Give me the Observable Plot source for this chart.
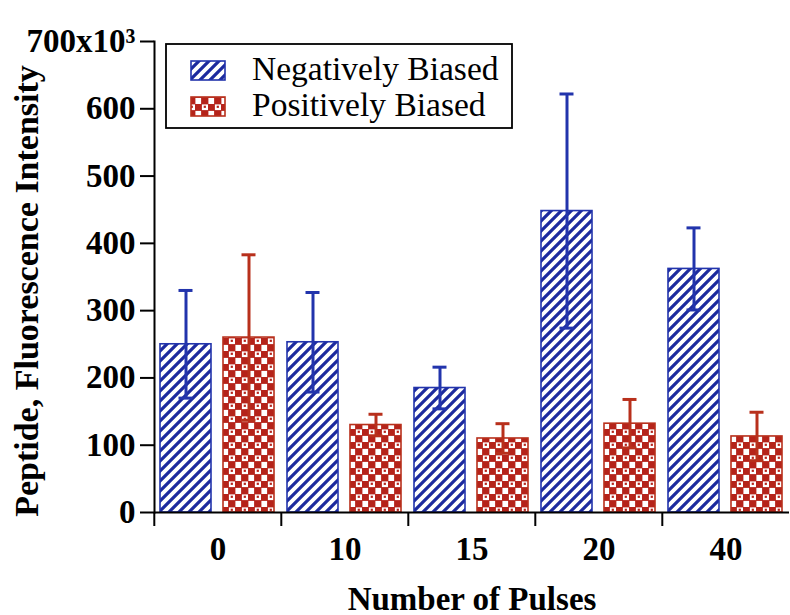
<!DOCTYPE html>
<html>
<head>
<meta charset="utf-8">
<script src="https://cdn.jsdelivr.net/npm/d3@7"></script>
<script src="https://cdn.jsdelivr.net/npm/@observablehq/plot@0.6"></script>
<style>
  html, body { margin: 0; padding: 0; background: white; }
  #chart { position: relative; width: 790px; height: 615px; }
</style>
</head>
<body>
<svg width="0" height="0" style="position:absolute">
  <defs>
    <pattern id="hatch" patternUnits="userSpaceOnUse" width="10" height="10">
      <rect width="10" height="10" fill="white"/>
      <path d="M-1,11 L11,-1 M-6,6 L6,-6 M4,16 L16,4" stroke="#1c2a9e" stroke-width="3.2"/>
    </pattern>
    <pattern id="check" patternUnits="userSpaceOnUse" width="13" height="13">
      <rect width="13" height="13" fill="white"/>
      <rect x="0" y="0" width="6.5" height="6.5" fill="#b5231a"/>
      <rect x="6.5" y="6.5" width="6.5" height="6.5" fill="#b5231a"/>
      <rect x="8.7" y="1.7" width="2.2" height="2.2" fill="#b5231a"/>
      <path d="M0,0 H13 M0,6.5 H13 M0,0 V13 M6.5,0 V13" stroke="#b5231a" stroke-width="0.8"/>
    </pattern>
  </defs>
</svg>
<div id="chart"></div>
<script>
// ---- data ----
const groups = ["0", "10", "15", "20", "40"];
const series = ["Negatively Biased", "Positively Biased"];
const negMean = [250, 253, 185, 448, 362];
const negErr  = [80, 74, 31, 174, 61];
const posMean = [260, 130, 110, 132, 113];
const posErr  = [123, 16, 22, 36, 36];
const yTicks = [0, 100, 200, 300, 400, 500, 600, 700];
const yTickLabels = ["0", "100", "200", "300", "400", "500", "600", "700x10³"];
const xTitle = "Number of Pulses";
const yTitle = "Peptide, Fluorescence Intensity";

const rows = [];
groups.forEach((g, i) => {
  rows.push({group: g, series: series[0], value: negMean[i], err: negErr[i]});
  rows.push({group: g, series: series[1], value: posMean[i], err: posErr[i]});
});
const neg = rows.filter(d => d.series === series[0]);
const pos = rows.filter(d => d.series === series[1]);

const W = 790, H = 615, ML = 153, MR = 0, MT = 41, MB = 103;
const step = (W - ML - MR) / groups.length;
const blue = "#2234ac", red = "#b8301c";
const font = "'Liberation Serif', 'Times New Roman', serif";

function errMarks(data, color) {
  return [
    Plot.ruleX(data, {fx: "group", x: "series", y1: d => d.value - d.err, y2: d => d.value + d.err, stroke: color, strokeWidth: 3}),
    Plot.tickY(data, {fx: "group", x: "series", y: d => d.value + d.err, stroke: color, strokeWidth: 3, insetLeft: 18.5, insetRight: 18.5}),
    Plot.tickY(data, {fx: "group", x: "series", y: d => d.value - d.err, stroke: color, strokeWidth: 3, insetLeft: 18.5, insetRight: 18.5})
  ];
}

const plot = Plot.plot({
  width: W, height: H,
  marginLeft: ML, marginRight: MR, marginTop: MT, marginBottom: MB,
  style: {fontFamily: font, fontWeight: "bold", color: "black", background: "white", overflow: "visible"},
  fx: {domain: groups, padding: 0},
  x: {domain: series, paddingInner: 0.19, paddingOuter: 0.1, axis: null},
  y: {domain: [0, 700]},
  marks: [
    Plot.barY(neg, {fx: "group", x: "series", y: "value", fill: "url(#hatch)", stroke: blue, strokeWidth: 1.6}),
    Plot.barY(pos, {fx: "group", x: "series", y: "value", fill: "url(#check)", stroke: red, strokeWidth: 1.6}),
    ...errMarks(neg, blue),
    ...errMarks(pos, red),
    Plot.ruleY([0], {stroke: "black", strokeWidth: 2}),
    Plot.frame({anchor: "left", facetAnchor: "left", stroke: "black", strokeWidth: 2}),
    Plot.axisY({
      ticks: yTicks, tickSize: 14, tickPadding: 5, strokeWidth: 2,
      tickFormat: d => yTickLabels[yTicks.indexOf(d)],
      fontSize: 33, fontWeight: "bold", label: null
    }),
    Plot.text([yTitle], {
      text: d => d, frameAnchor: "left", rotate: -90, textAnchor: "middle", lineAnchor: "middle",
      dx: -127, dy: 14, fontSize: 34, fontWeight: "bold", facetAnchor: "left", fill: "black"
    }),
    Plot.axisFx({
      anchor: "bottom", tickSize: 0, tickPadding: 24, fontSize: 33, fontWeight: "bold",
      label: xTitle, labelAnchor: "center", labelArrow: "none", labelOffset: 97
    }),
    Plot.axisFx({
      anchor: "bottom", tickSize: 14, strokeWidth: 2, tickFormat: () => "", label: null, dx: -step / 2
    })
  ]
});
document.getElementById("chart").appendChild(plot);

// ---- legend ----
const svg = d3.select(plot);
const lg = svg.append("g").attr("font-family", font).attr("font-weight", "normal").attr("text-anchor", "start");
lg.append("rect").attr("x", 166).attr("y", 44).attr("width", 346).attr("height", 84)
  .attr("fill", "white").attr("stroke", "black").attr("stroke-width", 1.8);
const legendItems = [
  {label: series[0], fill: "url(#hatch)", stroke: blue},
  {label: series[1], fill: "url(#check)", stroke: red}
];
legendItems.forEach((it, i) => {
  const y0 = 61 + i * 36;
  lg.append("rect").attr("x", 191).attr("y", y0).attr("width", 34).attr("height", 19)
    .attr("fill", it.fill).attr("stroke", it.stroke).attr("stroke-width", 1.6);
  lg.append("text").attr("x", 252).attr("y", y0 + 19).attr("font-size", 33.5)
    .attr("fill", "black").attr("text-anchor", "start").text(it.label);
});
</script>
</body>
</html>
